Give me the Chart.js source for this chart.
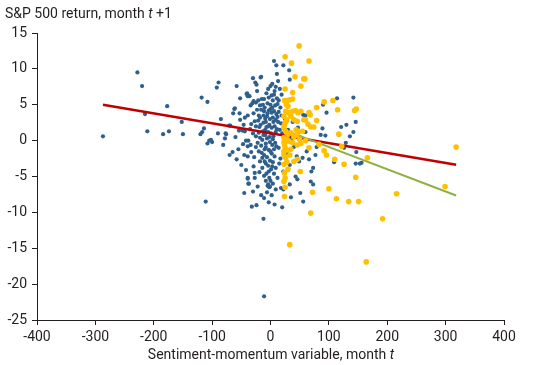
<!DOCTYPE html>
<html>
<head>
<meta charset="utf-8">
<script src="https://cdn.jsdelivr.net/npm/chart.js@4.4.1/dist/chart.umd.min.js"></script>
<style>
  html, body { margin: 0; padding: 0; background: #fff; }
  #wrap { width: 550px; height: 365px; position: relative; }
</style>
</head>
<body>
<div id="wrap"><canvas id="chart" width="550" height="365"></canvas></div>
<script>
// blue: months where the sentiment-momentum signal is off
const blueX = [-287,-228,-220,-215,-211,-184,-177,-174,-152,-150,-118,-108,-114,-117,-120,-105,-108,-111,-100,
  -92,-89,-58,-30,-26,-24,-17,6,10,-41,-39,-62,-64,-53,-52,-71,-77,-78,-81,-102,-70,-58,-42,-39,-38,-32,-24,-12,-11,-5,-2,
  -40,-36,-52,-23,-29,-25,-21,-15,-11,-34,-31,-18,-13,-61,-44,-39,-29,-18,-27,-21,-17,-12,-25,-19,-11,-16,-69,
  -76,-54,-48,-44,-42,-38,-39,-34,-25,-39,-33,-25,-18,-14,-15,-11,-14,-10,-14,-29,-27,-27,-19,-39,-37,
  22,32,11,-16,33,3,0,-4,16,19,7,6,11,
  -5,0,3,8,12,17,-3,2,6,10,14,19,-6,-1,4,9,13,18,-8,-2,2,7,11,16,-9,-4,1,5,-6,-1,3,8,-8,-3,2,6,-6,-1,4,-4,1,-7,-2,
  -8,-9,-7,-5,-10,-20,-22,-30,-33,-47,-46,-55,-50,-20,-18,-22,-30,-16,-45,-8,
  9,-4,-1,9,18,33,43,46,51,35,56,20,45,49,55,142,114,90,96,56,60,146,130,121,89,86,94,142,136,129,126,79,77,66,147,109,146,153,156,73,70,69,73,22,-11,
  25,30,36,40,28,33,50,60,62,47,38,24,20,14,17,22,12,15,
  -3,2,9,13,-7,4,14,-12,-9,0,5,12,-4,9,-12,-2,4,10,-10,0,7,-8,3,-3,6,-11,0,4,-6,2,-3,7,-13,-16,-20,-23,-35,-28,-45,-60,-65,-85,-90];
const blueY = [0.6,9.5,7.6,3.7,1.3,0.9,4.8,1.3,2.6,0.9,6.0,5.4,1.7,1.2,0.9,0.0,-0.4,-8.5,-0.2,
  7.4,8.1,7.6,8.7,8.1,7.8,8.8,11.1,10.5,6.5,6.2,4.4,3.8,3.8,2.9,2.1,1.0,0.3,-0.6,0.1,-2.0,-2.6,-4.1,-5.2,-6.0,-9.2,-9.0,-10.9,-8.0,-6.3,-6.5,
  6.6,6.2,5.9,6.9,5.5,5.3,5.6,5.8,5.8,4.9,5.2,4.9,5.0,4.5,3.2,3.5,3.8,3.2,2.7,2.8,2.2,2.5,2.0,1.9,4.1,4.3,2.1,
  0.9,1.4,1.4,1.3,0.0,0.0,-0.8,-0.6,-0.9,-2.2,-1.6,0.6,0.4,0.1,-1.7,-2.0,-2.4,-2.9,-3.8,-3.6,-4.5,-5.2,-4.4,-5.3,-6.0,
  10.5,9.8,9.3,8.9,8.5,7.9,7.6,7.2,7.2,6.4,6.9,6.4,5.9,
  5.2,5.0,4.6,4.9,5.1,4.6,4.2,3.9,4.1,3.7,4.0,3.5,3.4,3.0,3.2,2.9,2.6,2.4,2.6,2.2,1.8,2.0,1.6,1.5,1.5,1.2,1.0,0.6,0.3,-0.2,-0.6,-0.3,-0.9,-1.3,-1.8,-1.2,-2.3,-2.8,-3.0,-3.5,-4.0,-4.6,-5.2,
  -0.4,0.8,1.9,3.8,4.6,1.1,-0.3,1.0,2.3,-0.5,2.2,-1.2,-3.4,-1.5,-2.9,-6.4,-7.1,-7.6,-7.3,-5.6,
  -3.8,-6.1,-6.4,-6.8,-6.6,-6.1,-5.0,-5.4,-7.3,-7.9,-8.5,-9.3,-2.2,-2.9,-2.4,6.0,5.9,5.0,3.9,3.6,3.5,2.6,2.2,1.9,1.7,0.8,0.7,1.2,0.6,-0.3,-1.0,-0.9,-2.0,-2.6,-1.6,-3.0,-3.2,-3.2,-3.1,-3.8,-4.3,-5.7,-6.1,-6.8,-21.7,
  3.0,1.5,0.2,-0.9,-1.8,-3.4,0.5,1.2,-1.5,1.8,2.6,-0.4,1.0,-1.0,-2.5,-4.3,-5.2,-3.2,
  6.0,6.3,7.5,8.3,6.6,5.6,5.6,3.5,3.1,4.4,2.6,3.3,2.0,1.2,0.8,0.5,0.2,-0.8,-1.2,-1.5,-2.2,-3.2,-3.6,-4.3,-4.6,-4.9,-5.6,-6.0,-7.2,-7.6,-8.6,-8.9,1.3,-0.7,3.5,4.3,1.6,-2.3,-2.0,0.5,-1.6,3.0,1.0];

// yellow: months where the signal is on
const yellowX = [49,25,36,42,57,52,25,38,24,29,33,38,26,31,38,43,47,52,23,28,24,40,46,57,
  23,26,23,28,24,23,26,23,24,25,23,
  30,35,40,45,50,52,46,38,32,
  33,40,46,51,24,
  66,59,107,92,147,144,115,79,66,68,60,79,69,74,
  117,83,92,96,66,166,110,126,146,100,72,113,134,151,69,
  318,299,216,192,164,33,122,
  27,30,35,44,55,60,35,28,30,25,26,48,64,23,25,29,23];
const yellowY = [13.2,11.7,10.8,8.9,8.6,7.6,7.2,6.7,5.6,5.6,5.7,5.8,4.1,3.9,4.1,4.2,3.9,4.1,3.4,2.9,2.2,2.9,2.7,2.9,
  1.8,1.3,0.4,0.1,-0.6,-1.5,-2.4,-3.3,-4.5,-5.2,-5.7,
  0.9,1.1,0.5,0.8,0.2,-0.4,-0.6,-0.3,-0.1,
  -2.0,-2.9,-2.6,-4.3,-7.8,
  11.1,8.6,5.6,5.4,4.4,4.2,4.3,4.6,3.9,3.6,2.9,2.8,1.9,1.9,
  0.9,-0.5,-1.4,-2.0,-1.0,-2.4,-2.6,-3.3,-5.1,-6.7,-7.2,-8.1,-8.5,-8.5,-10.1,
  -0.9,-6.4,-7.4,-10.9,-16.9,-14.5,-0.8,
  5.0,4.8,3.4,1.5,1.3,0.0,-1.2,-3.0,-4.0,-6.5,2.6,1.2,2.3,-0.2,-1.0,-1.3,-2.0];

// fitted lines (end points)
const redLineX = [-287, 318];
const redLineY = [5.0, -3.35];
const greenLineX = [23, 318];
const greenLineY = [1.5, -7.65];

const xMin = -400, xMax = 400, xStep = 100;
const yMin = -25, yMax = 15, yStep = 5;

const yTitle = [['S&P 500 return, month ', ''], ['t', 'italic '], [' +1', '']];
const xTitle = [['Sentiment-momentum variable, month ', ''], ['t', 'italic ']];

const FONT = 'Roboto, "Noto Sans", sans-serif';
const TXT = '#231f20';

function pts(xs, ys) { return xs.map((x, i) => ({ x: x, y: ys[i] })); }

function drawParts(ctx, parts, x, y, align) {
  let widths = parts.map(p => { ctx.font = p[1] + '14px ' + FONT; return ctx.measureText(p[0]).width; });
  let total = widths.reduce((a, b) => a + b, 0);
  let cx = align === 'center' ? x - total / 2 : x;
  parts.forEach((p, i) => {
    ctx.font = p[1] + '14px ' + FONT;
    ctx.fillText(p[0], cx, y);
    cx += widths[i];
  });
}

const titlesPlugin = {
  id: 'titles',
  afterDraw(chart) {
    const ctx = chart.ctx;
    ctx.save();
    ctx.fillStyle = TXT;
    ctx.textBaseline = 'alphabetic';
    ctx.textAlign = 'left';
    drawParts(ctx, yTitle, 5, 18, 'left');
    drawParts(ctx, xTitle, 271, 359, 'center');
    ctx.restore();
  }
};

new Chart(document.getElementById('chart'), {
  type: 'scatter',
  data: {
    datasets: [
      { label: 'yellow', data: pts(yellowX, yellowY), backgroundColor: '#FFC000', borderWidth: 0, pointRadius: 2.8, order: 0 },
      { label: 'green', data: pts(greenLineX, greenLineY), showLine: true, borderColor: '#8FB043', borderWidth: 2, pointRadius: 0, order: 1 },
      { label: 'red', data: pts(redLineX, redLineY), showLine: true, borderColor: '#C00000', borderWidth: 2.5, pointRadius: 0, order: 2 },
      { label: 'blue', data: pts(blueX, blueY), backgroundColor: '#2F5F8C', borderWidth: 0, pointRadius: 2.1, order: 3 }
    ]
  },
  options: {
    responsive: false,
    devicePixelRatio: 1,
    animation: false,
    layout: { padding: { top: 33, right: 46, left: 0, bottom: 0 } },
    plugins: { legend: { display: false }, tooltip: { enabled: false } },
    scales: {
      x: {
        min: xMin, max: xMax,
        ticks: { stepSize: xStep, color: TXT, font: { family: FONT, size: 14 }, padding: 4, maxRotation: 0 },
        grid: { drawOnChartArea: false, tickLength: 5, color: TXT },
        border: { color: TXT, width: 1 },
        afterFit(s) { s.height = 45; }
      },
      y: {
        min: yMin, max: yMax,
        ticks: { stepSize: yStep, color: TXT, font: { family: FONT, size: 14 }, padding: 5 },
        grid: { drawOnChartArea: false, tickLength: 5, color: TXT },
        border: { color: TXT, width: 1 },
        afterFit(s) { s.width = 37; }
      }
    }
  },
  plugins: [titlesPlugin]
});
</script>
</body>
</html>
